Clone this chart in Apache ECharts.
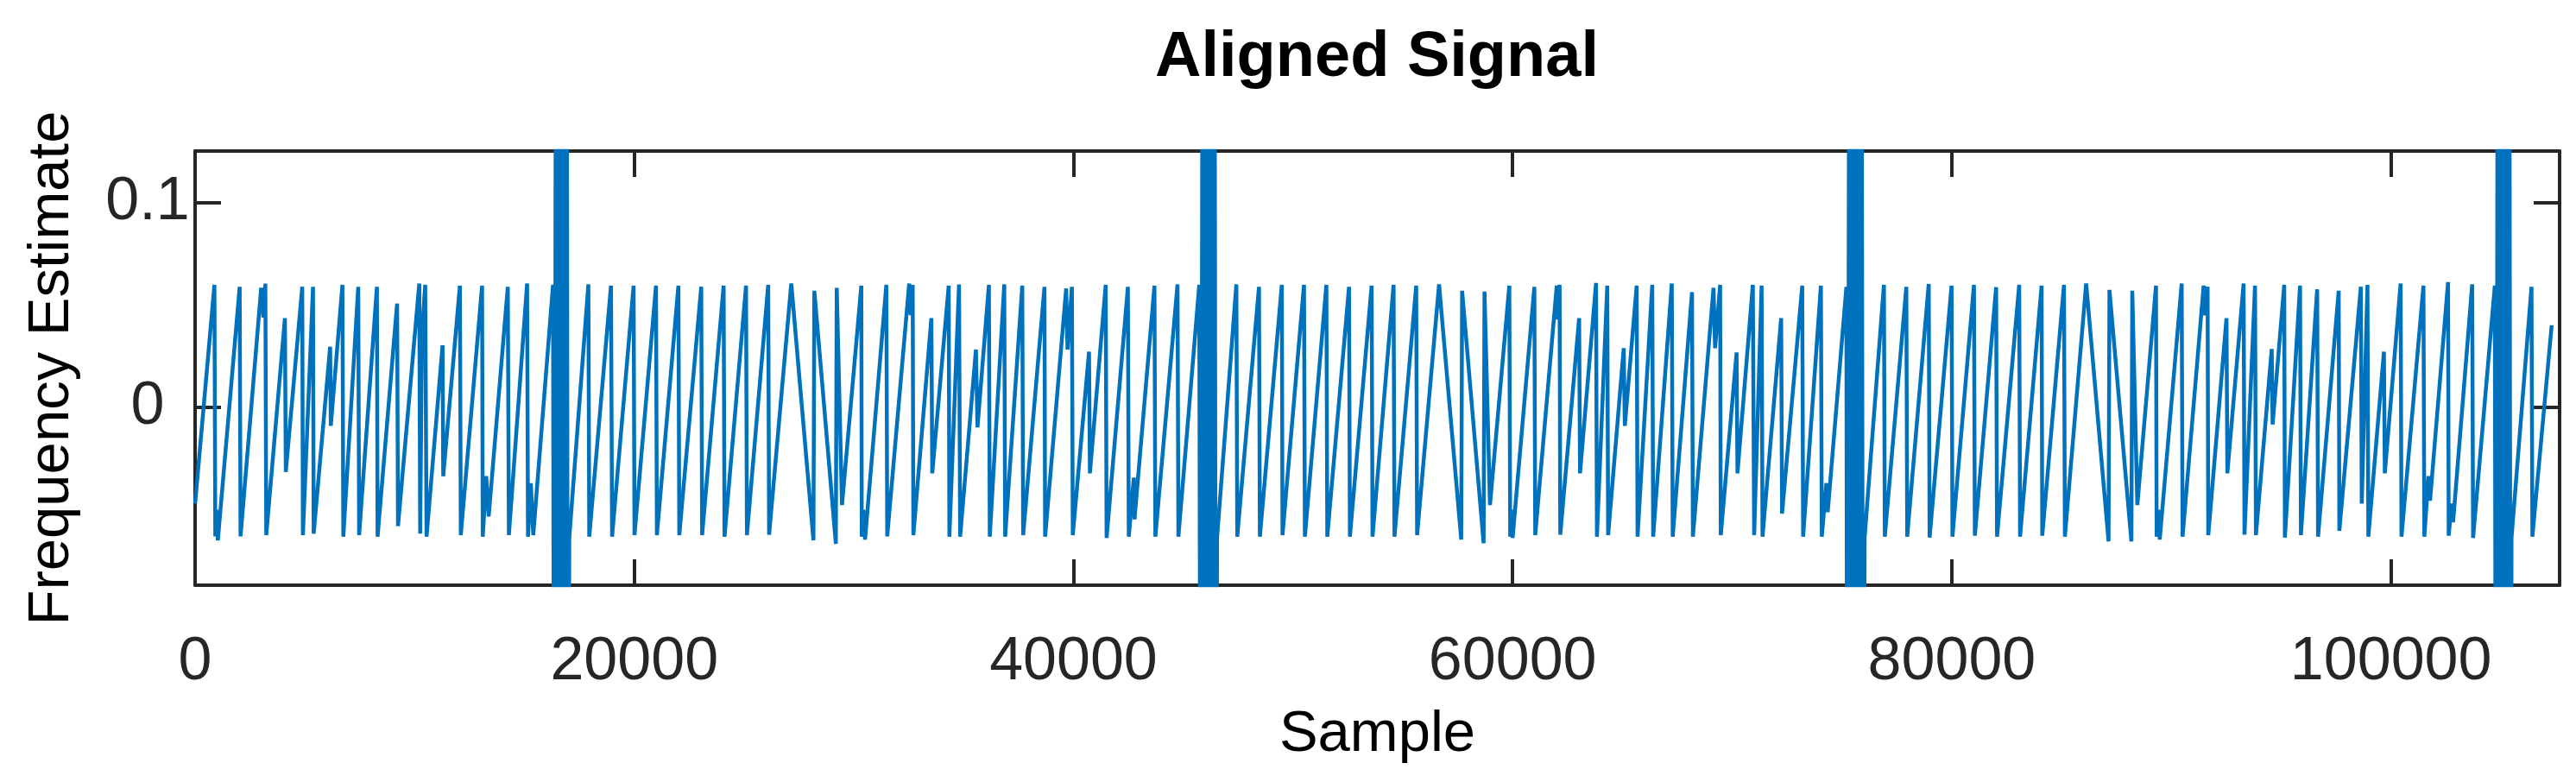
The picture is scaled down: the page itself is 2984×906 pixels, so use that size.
<!DOCTYPE html>
<html>
<head>
<meta charset="utf-8">
<script src="https://cdn.jsdelivr.net/npm/echarts@6.0.0/dist/echarts.min.js"></script>
<style>
html,body{margin:0;padding:0;background:#fff;}
#chart{width:2984px;height:906px;}
</style>
</head>
<body>
<div id="chart"></div>
<script>
// ---- texts ----
const titleText = 'Aligned Signal';
const xAxisName = 'Sample';
const yAxisName = 'Frequency Estimate';

// ---- tick labels ----
const xTicks = [0, 20000, 40000, 60000, 80000, 100000];
const yTicks = [0, 0.1];

// ---- axis limits ----
const xLimits = [0, 107680];
const yLimits = [-0.0869, 0.1254];

// ---- signal vertices (sample index, frequency estimate) ----
const sampleIdx = [
  0, 880, 920, 970, 1035, 2030, 2070, 3010, 3110, 3200, 3240, 4090, 4130, 4880, 4910,
  5370, 5400, 6150, 6180, 6710, 6750, 7430, 7470, 8280, 8310, 9200, 9240,
  10210, 10250, 10330, 10480, 10540, 11270, 11300, 12060, 12100, 13070, 13100, 13260, 13370,
  14240, 14290, 15120, 15160, 15290, 15400, 16300,
  16360, 16440, 16520, 16600, 16680, 16760, 16840, 16920, 16980,
  17040, 17910, 17950, 18940, 18990, 19970, 20010, 20990, 21030, 22010, 22050,
  23050, 23090, 24070, 24110, 25090, 25130, 26100, 26140, 27150, 28160, 28200,
  29180, 29220, 29460, 30340, 30360, 30430, 30510, 31480, 31520, 32520, 32590, 32680, 32710,
  33530, 33570, 34320, 34350, 34790, 34840, 35560, 35630, 36150, 36190, 36850, 36890,
  37670, 37710, 38680, 38710, 39670, 39730, 39930, 39970, 40710, 40750, 41470, 41510,
  42480, 42520, 42750, 42780, 43690, 43730, 44740, 44780, 45730,
  45800, 45890, 45980, 46070, 46160, 46250, 46340, 46420, 46490,
  46540, 47420, 47460, 48450, 48490, 49490, 49520, 50500, 50540, 51520, 51560,
  52550, 52590, 53580, 53620, 54580, 54620, 55610, 55650, 56650, 57660, 57700,
  58680, 58720, 58970, 59850, 59890, 59950, 60000, 60990, 61030, 62010, 62050, 62140, 62170,
  63030, 63070, 63800, 63840, 64310, 64350, 65060, 65110, 65650, 65690, 66360, 66400,
  67250, 67290, 68170, 68210, 69150, 69220, 69450, 69480, 70200, 70240, 70940, 71000,
  71340, 71380, 72230, 72270, 73190, 73230, 74040, 74080, 74290, 74350, 75200,
  75250, 75340, 75430, 75520, 75610, 75700, 75790, 75880, 75970,
  76030, 76910, 76950, 77930, 77970, 78950, 78990, 79990, 80030, 81010, 81050,
  82020, 82060, 83070, 83110, 84090, 84120, 85110, 85150, 86120, 87140, 87180,
  88180, 88220, 88450, 89300, 89330, 89400, 89470, 90470, 90510, 91470, 91530, 91650, 91680,
  92510, 92550, 93290, 93330, 93810, 93850, 94570, 94610, 95140, 95170, 95860, 95900,
  96640, 96680, 97620, 97650, 98630, 98670, 98930, 98970, 99680, 99720, 100440, 100480,
  101480, 101520, 101710, 101780, 102600, 102630, 102760, 102830, 103700, 103740, 104730,
  104790, 104870, 104950, 105030, 105110, 105200, 105290, 105380, 105460,
  105490, 106400, 106440, 107320
];
const freqEst = [
  -0.047, 0.060, -0.063, -0.050, -0.065, 0.059, -0.063, 0.0585, 0.044, 0.0606, -0.0624, 0.0437, -0.0315, 0.059, -0.0624,
  0.059, -0.0617, 0.0297, -0.009, 0.060, -0.0632, 0.059, -0.0624, 0.059, -0.0632, 0.0508, -0.058,
  0.0606, -0.0617, 0.036, 0.060, -0.0632, 0.0304, -0.0336, 0.0596, -0.0624, 0.0596, -0.0632, -0.0336, -0.0533,
  0.059, -0.0624, 0.0606, -0.0632, -0.037, -0.0624, 0.060,
  -0.3, 0.3, -0.3, 0.3, -0.3, 0.3, -0.3, 0.3, -0.3,
  -0.0638, 0.0602, -0.0632, 0.0596, -0.0632, 0.0596, -0.0624, 0.0596, -0.0624, 0.0596, -0.0624,
  0.059, -0.0624, 0.0596, -0.0632, 0.0596, -0.0624, 0.060, -0.0622, 0.0606, -0.065, 0.0571,
  -0.0667, 0.0585, -0.0477, 0.0596, -0.0632, -0.050, -0.0646, 0.060, -0.063, 0.0606, 0.0451, 0.060, -0.0624,
  0.0437, -0.0322, 0.0596, -0.0632, 0.0602, -0.0632, 0.0283, -0.0097, 0.060, -0.0632, 0.0602, -0.0632,
  0.0596, -0.0624, 0.059, -0.0632, 0.0582, 0.0283, 0.059, -0.0624, 0.0273, -0.0322, 0.060, -0.0638,
  0.059, -0.0632, -0.0343, -0.0547, 0.0596, -0.0632, 0.0602, -0.0632, 0.060,
  -0.3, 0.3, -0.3, 0.3, -0.3, 0.3, -0.3, 0.3, -0.3,
  -0.0638, 0.0602, -0.0632, 0.059, -0.0632, 0.060, -0.0624, 0.060, -0.0632, 0.060, -0.0632,
  0.059, -0.0632, 0.0596, -0.0632, 0.060, -0.0632, 0.0596, -0.0624, 0.0602, -0.0646, 0.0571,
  -0.0664, 0.0567, -0.0477, 0.0596, -0.0632, -0.050, -0.0638, 0.059, -0.0624, 0.0596, 0.043, 0.060, -0.0622,
  0.0437, -0.0322, 0.0609, -0.0632, 0.0596, -0.0624, 0.029, -0.009, 0.0596, -0.0632, 0.060, -0.0632,
  0.0606, -0.0632, 0.0564, -0.0632, 0.0585, 0.029, 0.060, -0.0624, 0.0269, -0.0322, 0.060, -0.0624,
  0.0596, -0.0632, 0.0437, -0.0519, 0.0596, -0.0632, 0.0596, -0.0632, -0.037, -0.0512, 0.059,
  -0.3, 0.3, -0.3, 0.3, -0.3, 0.3, -0.3, 0.3, -0.3,
  -0.0638, 0.060, -0.0632, 0.059, -0.0632, 0.0604, -0.0636, 0.0596, -0.0632, 0.060, -0.0627,
  0.0588, -0.0632, 0.060, -0.0632, 0.0596, -0.0627, 0.060, -0.0632, 0.0606, -0.0655, 0.0575,
  -0.0655, 0.0571, -0.0477, 0.0596, -0.0632, -0.050, -0.0646, 0.0606, -0.0632, 0.0596, 0.0451, 0.059, -0.0624,
  0.0437, -0.0322, 0.0606, -0.0622, 0.0596, -0.0624, 0.0286, -0.0083, 0.060, -0.0636, 0.0596, -0.0624,
  0.0578, -0.0632, 0.0571, -0.0603, 0.059, -0.047, 0.060, -0.0632, 0.0273, -0.0322, 0.0606, -0.0632,
  0.0596, -0.0632, -0.0336, -0.0456, 0.0613, -0.0627, -0.047, -0.0561, 0.0602, -0.0638, 0.0596,
  -0.3, 0.3, -0.3, 0.3, -0.3, 0.3, -0.3, 0.3, -0.3,
  -0.0638, 0.059, -0.0632, 0.0402
];

// ---- chart ----
const FONT = '"Liberation Sans", Arial, Helvetica, sans-serif';
const AXIS_COLOR = '#262626';
const LINE_COLOR = '#0072BD';

const seriesData = sampleIdx.map((s, i) => [s, freqEst[i]]);

function frameAxis(extra) {
  return Object.assign({
    type: 'value',
    axisLine: { show: true, onZero: false, lineStyle: { color: AXIS_COLOR, width: 4 } },
    splitLine: { show: false }
  }, extra);
}

const plainNumber = (v) => String(v);

const chart = echarts.init(document.getElementById('chart'), null, { renderer: 'canvas' });
chart.setOption({
  backgroundColor: '#ffffff',
  animation: false,
  title: {
    text: titleText,
    left: 1595,
    top: 31,
    textAlign: 'center',
    padding: 0,
    textStyle: { fontFamily: FONT, fontSize: 74, fontWeight: 'bold', color: '#000000' }
  },
  grid: { left: 226, right: 19, top: 175, bottom: 228, containLabel: false, outerBoundsMode: 'none' },
  xAxis: [
    frameAxis({
      position: 'bottom',
      min: xLimits[0], max: xLimits[1],
      name: xAxisName, nameLocation: 'middle', nameGap: 140,
      nameTextStyle: { fontFamily: FONT, fontSize: 67, color: '#000000' },
      axisTick: { show: true, inside: true, length: 30, customValues: xTicks, lineStyle: { color: AXIS_COLOR, width: 4 } },
      axisLabel: { show: true, customValues: xTicks, formatter: plainNumber, margin: 55, fontFamily: FONT, fontSize: 70, color: AXIS_COLOR }
    }),
    frameAxis({
      position: 'top',
      min: xLimits[0], max: xLimits[1],
      axisTick: { show: true, inside: true, length: 30, customValues: xTicks, lineStyle: { color: AXIS_COLOR, width: 4 } },
      axisLabel: { show: false }
    })
  ],
  yAxis: [
    frameAxis({
      position: 'left',
      min: yLimits[0], max: yLimits[1],
      name: yAxisName, nameLocation: 'middle', nameGap: 132,
      nameTextStyle: { fontFamily: FONT, fontSize: 67, color: '#000000' },
      axisTick: { show: true, inside: true, length: 30, customValues: yTicks, lineStyle: { color: AXIS_COLOR, width: 4 } },
      axisLabel: { show: true, customValues: yTicks, formatter: plainNumber, margin: 55, align: 'center', fontFamily: FONT, fontSize: 70, color: AXIS_COLOR }
    }),
    frameAxis({
      position: 'right',
      min: yLimits[0], max: yLimits[1],
      axisTick: { show: true, inside: true, length: 30, customValues: yTicks, lineStyle: { color: AXIS_COLOR, width: 4 } },
      axisLabel: { show: false }
    })
  ],
  series: [{
    type: 'line',
    xAxisIndex: 0,
    yAxisIndex: 0,
    data: seriesData,
    showSymbol: false,
    symbol: 'none',
    clip: true,
    lineStyle: { color: LINE_COLOR, width: 4.5 },
    emphasis: { disabled: true }
  }]
});
</script>
</body>
</html>
